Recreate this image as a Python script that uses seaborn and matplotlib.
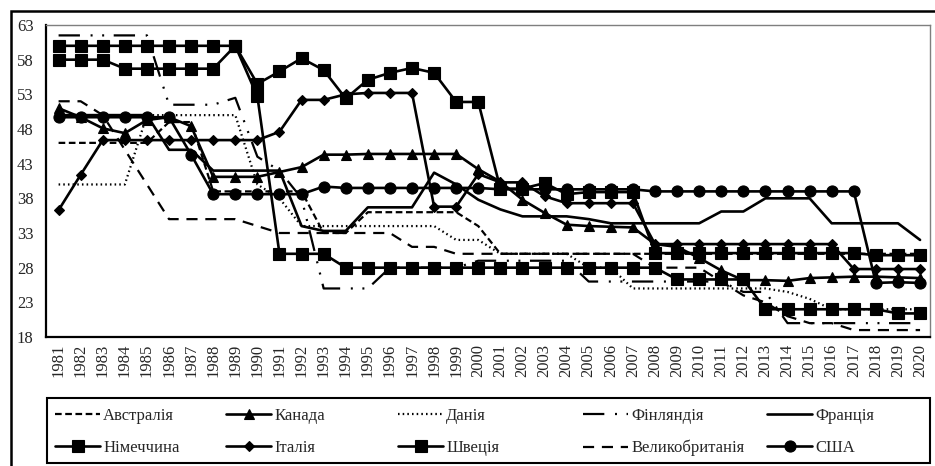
import matplotlib
matplotlib.use("Agg")
import matplotlib.pyplot as plt
import seaborn as sns
import pandas as pd
from matplotlib.patches import Rectangle

# ---------------- data ----------------
years = list(range(1981, 2021))

australia = [46, 46, 46, 46, 46, 49, 49, 39, 39, 39, 39, 39, 33, 33, 36, 36, 36, 36, 36, 34,
             30, 30, 30, 30, 30, 30, 30, 30, 30, 30, 30, 30, 30, 30, 30, 30, 30, 30, 30, 30]
canada = [51.0, 49.7, 48.1, 47.4, 49.3, 49.7, 48.4, 41.1, 41.1, 41.1, 41.8, 42.5, 44.3, 44.3,
          44.4, 44.4, 44.4, 44.4, 44.4, 42.2, 40.4, 37.8, 35.9, 34.2, 34.0, 33.9, 33.8, 31.4,
          31.0, 29.4, 27.6, 26.2, 26.2, 26.1, 26.5, 26.6, 26.7, 26.7, 26.6, 26.5]
denmark = [40, 40, 40, 40, 50, 50, 50, 50, 50, 40, 38, 34, 34, 34, 34, 34, 34, 34, 32, 32,
           30, 30, 30, 30, 28, 28, 25, 25, 25, 25, 25, 25, 25, 24.5, 23.5, 22, 22, 22, 22, 22]
finland = [61.5, 61.5, 61.5, 61.5, 61.5, 51.5, 51.5, 51.5, 52.5, 44, 42, 38, 25, 25, 25, 28,
           28, 28, 28, 29, 29, 29, 29, 29, 26, 26, 26, 26, 26, 26, 26, 24.5, 24.5, 20, 20, 20,
           20, 20, 20, 20]
france = [50, 50, 50, 50, 50, 45, 45, 42, 42, 42, 42, 34, 33.3, 33.3, 36.7, 36.7, 36.7, 41.7,
          40, 37.8, 36.4, 35.4, 35.4, 35.4, 35, 34.4, 34.4, 34.4, 34.4, 34.4, 36.1, 36.1, 38,
          38, 38, 34.4, 34.4, 34.4, 34.4, 32]
germany = [60, 60, 60, 60, 60, 60, 60, 60, 60, 54.5, 56.3, 58.2, 56.5, 52.4, 55.1, 56.1, 56.8,
           56.1, 51.9, 51.9, 39.4, 39.4, 40.2, 38.6, 38.9, 38.9, 38.9, 30.1, 30.1, 30.1, 30.1,
           30.1, 30.1, 30.1, 30.1, 30.1, 30.1, 29.8, 29.8, 29.8]
italy = [36.3, 41.4, 46.4, 46.4, 46.4, 46.4, 46.4, 46.4, 46.4, 46.4, 47.6, 52.2, 52.2, 53.0,
         53.2, 53.2, 53.2, 36.8, 36.8, 41.5, 40.3, 40.3, 38.3, 37.3, 37.3, 37.3, 37.3, 31.4,
         31.4, 31.4, 31.4, 31.4, 31.4, 31.4, 31.4, 31.4, 27.8, 27.8, 27.8, 27.8]
sweden = [58, 58, 58, 56.7, 56.7, 56.7, 56.7, 56.7, 60, 52.7, 30, 30, 30, 28, 28, 28, 28, 28,
          28, 28, 28, 28, 28, 28, 28, 28, 28, 28, 26.3, 26.3, 26.3, 26.3, 22, 22, 22, 22, 22,
          22, 21.4, 21.4]
uk = [52, 52, 50, 45, 40, 35, 35, 35, 35, 34, 33, 33, 33, 33, 33, 33, 31, 31, 30, 30, 30, 30,
      30, 30, 30, 30, 30, 28, 28, 28, 26, 24, 23, 21, 20, 20, 19, 19, 19, 19]
usa = [49.7, 49.7, 49.7, 49.7, 49.7, 49.7, 44.3, 38.6, 38.6, 38.6, 38.6, 38.6, 39.7, 39.5,
       39.5, 39.5, 39.5, 39.5, 39.5, 39.5, 39.3, 39.3, 39.3, 39.3, 39.3, 39.3, 39.3, 39.0,
       39.0, 39.0, 39.0, 39.0, 39.0, 39.0, 39.0, 39.0, 39.0, 25.8, 25.9, 25.8]

names = ["Австралія", "Канада", "Данія", "Фінляндія", "Франція",
         "Німеччина", "Італія", "Швеція", "Великобританія", "США"]
series = [australia, canada, denmark, finland, france,
          germany, italy, sweden, uk, usa]
y_ticks = list(range(18, 64, 5))

# ---------------- styles ----------------
styles = {
    "Австралія": dict(linestyle=(0, (3.0, 1.6)), lw=1.6),
    "Канада": dict(marker="^", markersize=7, lw=1.9),
    "Данія": dict(linestyle=(0, (0.7, 1.4)), lw=1.6),
    "Фінляндія": dict(linestyle=(0, (9.6, 4.8, 0.9, 4.3, 0.9, 4.3)), lw=1.6),
    "Франція": dict(lw=1.9),
    "Німеччина": dict(marker="s", markersize=8, lw=1.9),
    "Італія": dict(marker="D", markersize=5.5, lw=1.9),
    "Швеція": dict(marker="s", markersize=8, lw=1.9),
    "Великобританія": dict(linestyle=(0, (5, 3.5)), lw=1.6),
    "США": dict(marker="o", markersize=8, lw=1.9),
}

sns.set_theme(style="white")
plt.rcParams['font.family'] = ['Liberation Serif', 'DejaVu Serif']

W, H = 935, 466
fig = plt.figure(figsize=(W / 100, H / 100), dpi=100)
ax = fig.add_axes([46 / W, 1 - 337 / H, (930 - 46) / W, (337 - 25) / H])

for name, vals in zip(names, series):
    df = pd.DataFrame({"year": years, "rate": vals})
    st = styles[name]
    sns.lineplot(data=df, x="year", y="rate", ax=ax, color="black", label=name,
                 errorbar=None, markeredgecolor="black", markerfacecolor="black",
                 markeredgewidth=0.8, **st)

ax.set_xlim(1980.43, 2020.45)
ax.set_ylim(18, 63)
ax.set_yticks(y_ticks)
ax.set_yticklabels([str(t) for t in y_ticks], fontsize=12)
ax.set_xticks(years)
ax.set_xticklabels([str(y) for y in years], rotation=90, fontsize=12)
ax.tick_params(axis="both", length=0)
ax.tick_params(axis="y", pad=9)
ax.tick_params(axis="x", pad=5)
ax.set_xlabel("")
ax.set_ylabel("")
ax.grid(False)

for side in ["left", "bottom"]:
    ax.spines[side].set_color("black")
    ax.spines[side].set_linewidth(1.6)
for side in ["top", "right"]:
    ax.spines[side].set_color("#7f7f7f")
    ax.spines[side].set_linewidth(1.0)

leg0 = ax.get_legend()
if leg0 is not None:
    leg0.remove()

handles, labels = ax.get_legend_handles_labels()
hmap = dict(zip(labels, handles))

# legend: 5 columns placed at the reference positions, 2 rows each
col_x = [55, 226, 398, 583, 767]
for c in range(5):
    col_names = [names[c], names[c + 5]]
    fig.legend([hmap[n] for n in col_names], col_names, loc="upper left",
               bbox_to_anchor=(col_x[c] / W, 1 - 408 / H), frameon=False,
               fontsize=12, handlelength=2.7, handletextpad=0.2, borderaxespad=0,
               borderpad=0, labelspacing=0.95)

legend_box = Rectangle((47 / W, 1 - 463 / H), (930 - 47) / W, (463 - 398) / H,
                       transform=fig.transFigure, fill=False, edgecolor="black", lw=1.5)
fig.patches.append(legend_box)

# outer frame (cropped at right and bottom)
frame = Rectangle((10.5 / W, -0.5), 2.0, 0.5 + 1 - 10.5 / H, transform=fig.transFigure,
                  fill=False, edgecolor="black", lw=1.8, clip_on=False)
fig.patches.append(frame)

fig.savefig("out.png", dpi=100)
